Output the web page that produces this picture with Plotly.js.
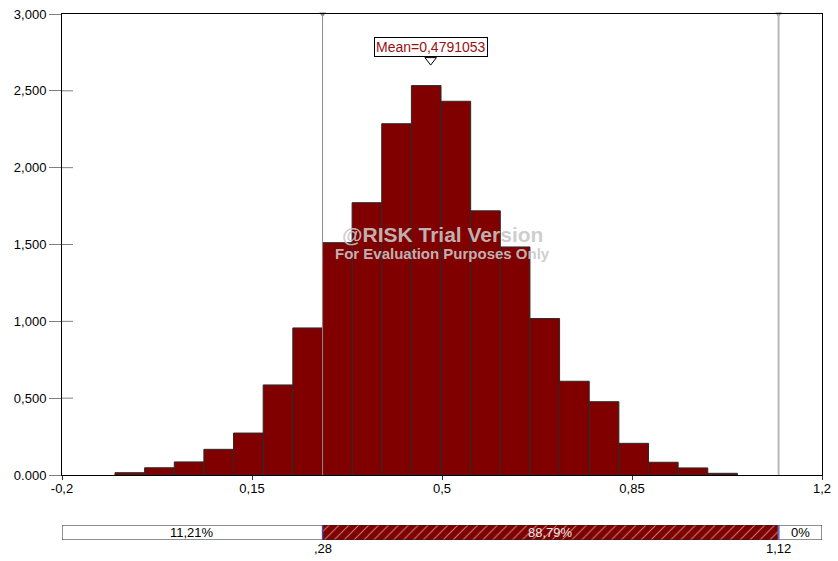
<!DOCTYPE html>
<html>
<head>
<meta charset="utf-8">
<script src="https://cdn.plot.ly/plotly-3.0.1.min.js"></script>
<style>
html,body{margin:0;padding:0;background:#fff;}
#chart{width:838px;height:561px;}
</style>
</head>
<body>
<div id="chart"></div>
<script>
// ---- data ----
const binCenters = [-0.0751, -0.0205, 0.0341, 0.0887, 0.1433, 0.1979, 0.2525, 0.3071, 0.3617, 0.4163, 0.4709,
                    0.5255, 0.5801, 0.6347, 0.6893, 0.7439, 0.7985, 0.8531, 0.9077, 0.9623, 1.0169];
const binWidth = 0.0546;
const density = [0.015, 0.047, 0.085, 0.167, 0.273, 0.586, 0.957, 1.512, 1.772, 2.286, 2.534,
                 2.432, 1.719, 1.484, 1.018, 0.610, 0.477, 0.206, 0.083, 0.046, 0.011];
const meanValue = 0.4791053;
const meanLabel = 'Mean=0,4791053';
const lowerCut = 0.28;
const upperCut = 1.12;
const cutLabels = [',28', '1,12'];
const xTickVals = [-0.2, 0.15, 0.5, 0.85, 1.2];
const xTickText = ['-0,2', '0,15', '0,5', '0,85', '1,2'];
const yTickVals = [0, 0.5, 1.0, 1.5, 2.0, 2.5, 3.0];
const yTickText = ['0.000', '0,500', '1,000', '1,500', '2,000', '2,500', '3,000'];
const segStarts = [-0.2, 0.28, 1.12];
const segLengths = [0.48, 0.84, 0.08];
const segLabels = ['11,21%', '88,79%', '0%'];
const xRange = [-0.2, 1.2];
const yMax = 3.0;

// ---- traces ----
const FONT = 'Liberation Sans, Arial, sans-serif';
const hist = {
  type: 'bar', x: binCenters, y: density, width: binCenters.map(() => binWidth),
  marker: {color: '#800000', line: {color: '#2a2a2a', width: 1}},
  xaxis: 'x', yaxis: 'y', hoverinfo: 'skip', showlegend: false
};
const cutMarks = {
  type: 'scatter', mode: 'markers', x: [lowerCut, upperCut], y: [yMax, yMax],
  marker: {symbol: 'triangle-down', size: 6, color: '#808080'},
  cliponaxis: false, xaxis: 'x', yaxis: 'y', hoverinfo: 'skip', showlegend: false
};
const meanMark = {
  type: 'scatter', mode: 'markers', x: [meanValue], y: [2.70],
  marker: {symbol: 'triangle-down-open', size: 10, color: '#000', line: {width: 1, color: '#000'}},
  cliponaxis: false, xaxis: 'x', yaxis: 'y', hoverinfo: 'skip', showlegend: false
};
const segBar = {
  type: 'bar', orientation: 'h', y: segStarts.map(() => 0), x: segLengths, base: segStarts, width: 1,
  marker: {
    color: ['#ffffff', '#800000', '#ffffff'],
    line: {color: '#222', width: 1},
    pattern: {shape: ['', '/', ''], fgcolor: '#b0a0a0', bgcolor: ['#ffffff', '#800000', '#ffffff'], size: 7, solidity: 0.15, fillmode: 'overlay'}
  },
  xaxis: 'x2', yaxis: 'y2', hoverinfo: 'skip', showlegend: false
};

// ---- shapes ----
const shapes = [
  {type: 'line', xref: 'x', yref: 'y domain', x0: lowerCut, x1: lowerCut, y0: 0, y1: 1, line: {color: '#8c8c8c', width: 1}, layer: 'above'},
  {type: 'line', xref: 'x', yref: 'y domain', x0: upperCut, x1: upperCut, y0: 0, y1: 1, line: {color: '#b8b8b8', width: 2}, layer: 'above'},
  {type: 'line', xref: 'x2', yref: 'y2 domain', x0: lowerCut, x1: lowerCut, y0: 0, y1: 1, line: {color: '#4a4aa0', width: 1.5}},
  {type: 'line', xref: 'x2', yref: 'y2 domain', x0: upperCut, x1: upperCut, y0: 0, y1: 1, line: {color: '#6a6ab0', width: 2}}
];
yTickVals.forEach(v => {
  if (v > 0 && v < yMax) shapes.push({type: 'line', xref: 'x domain', yref: 'y', x0: 0, x1: 11 / 760, y0: v, y1: v, line: {color: '#808080', width: 1}});
});

// ---- annotations ----
const annotations = [
  {xref: 'x', yref: 'y', x: meanValue, y: 2.785, text: meanLabel, showarrow: false, xanchor: 'center', yanchor: 'middle',
   font: {family: FONT, size: 14, color: '#9a1010'}, bgcolor: '#ffffff', bordercolor: '#000', borderwidth: 1, borderpad: 1},
  {xref: 'paper', yref: 'paper', x: 0.5, y: 0.58, text: '<b>@RISK Trial Version</b>', showarrow: false,
   font: {family: FONT, size: 21, color: 'rgba(200,200,200,0.9)'}},
  {xref: 'paper', yref: 'paper', x: 0.5, y: 0.545, text: '<b>For Evaluation Purposes Only</b>', showarrow: false,
   font: {family: FONT, size: 15, color: 'rgba(200,200,200,0.9)'}},
  {xref: 'x2', yref: 'paper', x: lowerCut, y: 0.002, yanchor: 'top', text: cutLabels[0], showarrow: false, font: {family: FONT, size: 13, color: '#000'}},
  {xref: 'x2', yref: 'paper', x: upperCut, y: 0.002, yanchor: 'top', text: cutLabels[1], showarrow: false, font: {family: FONT, size: 13, color: '#000'}}
];
const segTextColors = ['#000', '#e6e6e6', '#000'];
segLabels.forEach((t, i) => {
  annotations.push({xref: 'x2', yref: 'y2', x: segStarts[i] + segLengths[i] / 2, y: 0, text: t, showarrow: false,
    font: {family: FONT, size: 13, color: segTextColors[i]}});
});

const plotH = 561 - 14 - 21;
const layout = {
  width: 838, height: 561,
  margin: {l: 62, r: 16, t: 14, b: 21, pad: 0},
  paper_bgcolor: '#fff', plot_bgcolor: '#fff',
  font: {family: FONT, size: 13, color: '#000'},
  barmode: 'overlay', bargap: 0,
  xaxis: {domain: [0, 1], range: xRange, tickvals: xTickVals, ticktext: xTickText, ticks: 'outside', ticklen: 4,
          tickcolor: '#333', showline: true, linecolor: '#000', linewidth: 1, mirror: true, showgrid: false, zeroline: false,
          anchor: 'y', fixedrange: true, tickfont: {size: 13}, ticklabelstandoff: -3},
  yaxis: {domain: [(540 - 475) / plotH, 1], range: [0, yMax], tickvals: yTickVals, ticktext: yTickText, ticks: 'outside',
          ticklen: 12, tickcolor: '#808080', showline: true, linecolor: '#000', linewidth: 1, mirror: true, showgrid: false,
          zeroline: false, anchor: 'x', fixedrange: true, tickfont: {size: 13}},
  xaxis2: {domain: [0, 1], range: xRange, anchor: 'y2', visible: false, fixedrange: true},
  yaxis2: {domain: [0, 15 / plotH], range: [-0.5, 0.5], anchor: 'x2', visible: false, fixedrange: true},
  shapes: shapes,
  annotations: annotations,
  showlegend: false
};

Plotly.newPlot('chart', [hist, segBar, cutMarks, meanMark], layout, {displayModeBar: false, staticPlot: true});
</script>
</body>
</html>
